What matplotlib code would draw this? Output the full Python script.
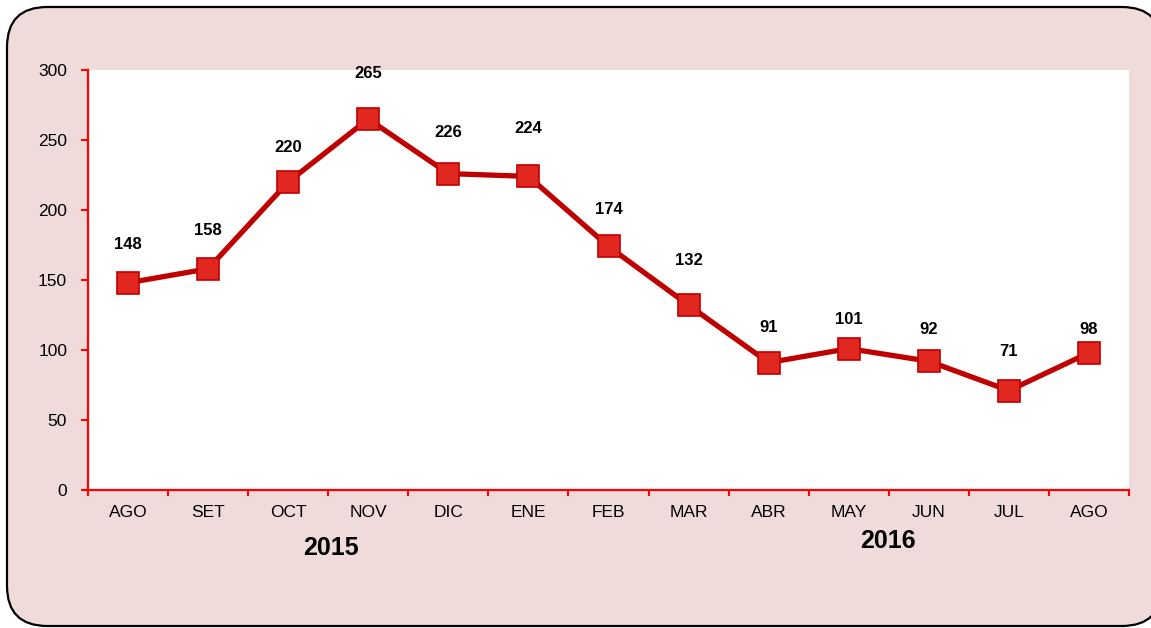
import matplotlib
matplotlib.use("Agg")
import matplotlib.pyplot as plt
from matplotlib.patches import FancyBboxPatch

months = ["AGO", "SET", "OCT", "NOV", "DIC", "ENE", "FEB", "MAR", "ABR", "MAY", "JUN", "JUL", "AGO"]
values = [148, 158, 220, 265, 226, 224, 174, 132, 91, 101, 92, 71, 98]
years = ["2015", "2016"]
yticks = [0, 50, 100, 150, 200, 250, 300]

# label offsets in pixels (styling)
label_off = [38, 38, 34, 46, 41, 48, 37, 45, 35, 29, 32, 39, 23]

plt.rcParams['font.family'] = ['Liberation Sans', 'DejaVu Sans']

W, H = 1151, 628
fig = plt.figure(figsize=(W / 100, H / 100), dpi=100)
fig.patch.set_facecolor("white")

bg = "#F0DBDB"
box = FancyBboxPatch((7 / W, 2 / H), (1162 - 7) / W, (620 - 1) / H,
                     boxstyle="round,pad=0,rounding_size=0.035",
                     transform=fig.transFigure, facecolor=bg, edgecolor="black",
                     linewidth=1.6, zorder=-10, mutation_aspect=W / H)
fig.patches.append(box)

ax = fig.add_axes([88 / W, 1 - 490 / H, (1129 - 88) / W, (490 - 70) / H])
ax.set_zorder(5)
ax.set_facecolor("white")
x = list(range(len(months)))
ax.plot(x, values, color="#C00000", linewidth=3.8, marker="s", markersize=15.5,
        markerfacecolor="#E02820", markeredgecolor="#C00000", markeredgewidth=1.2,
        zorder=3, clip_on=False)
for xi, v, off in zip(x, values, label_off):
    ax.annotate(str(v), (xi, v), xytext=(0, off * 0.72), textcoords="offset points",
                ha="center", va="center", fontsize=12, fontweight="bold", color="black")

ax.set_xlim(-0.5, len(months) - 0.5)
ax.set_ylim(0, 300)
ax.set_yticks(yticks)
ax.set_yticklabels([str(t) for t in yticks], fontsize=12.5)
ax.set_xticks(x)
ax.set_xticklabels(months, fontsize=12.5)
ax.set_xticks([i - 0.5 for i in range(len(months) + 1)], minor=True)
ax.tick_params(axis="x", which="major", length=0, pad=11)
ax.tick_params(axis="x", which="minor", length=4, color="red", width=1.5, direction="out")
ax.tick_params(axis="y", which="major", length=5, color="red", width=1.5, direction="out", pad=10)
for s in ["top", "right"]:
    ax.spines[s].set_visible(False)
for s in ["left", "bottom"]:
    ax.spines[s].set_color("red")
    ax.spines[s].set_linewidth(1.6)

fig.text(331 / W, 1 - 548 / H, years[0], ha="center", va="center", fontsize=18, fontweight="bold")
fig.text(888 / W, 1 - 541 / H, years[1], ha="center", va="center", fontsize=18, fontweight="bold")

fig.savefig("out.png", dpi=100, facecolor=fig.get_facecolor())
